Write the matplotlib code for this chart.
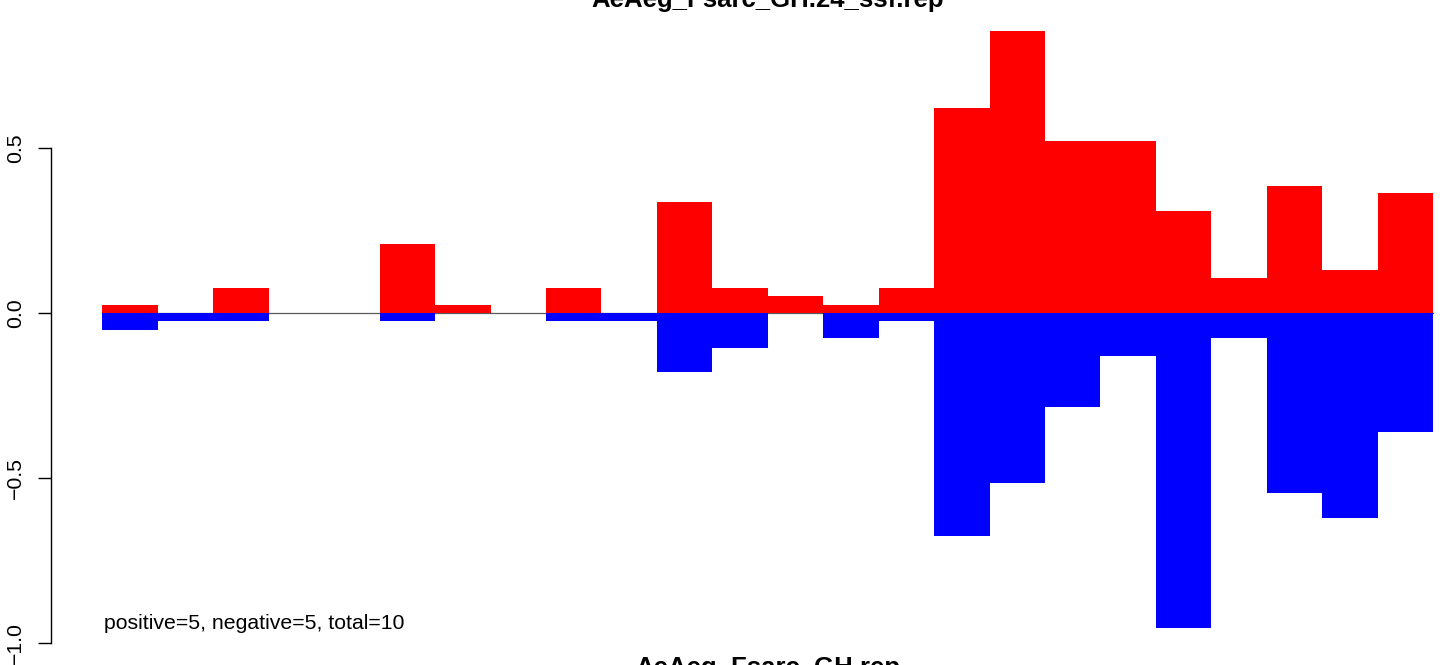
import numpy as np
import matplotlib
matplotlib.use("Agg")
import matplotlib.pyplot as plt

# bar values, one per position
pos_vals = [0.025, 0.0, 0.075, 0.0, 0.0, 0.21, 0.025, 0.0, 0.075, 0.0,
            0.335, 0.075, 0.05, 0.025, 0.075, 0.62, 0.855, 0.52, 0.52, 0.31,
            0.105, 0.385, 0.13, 0.365]
neg_vals = [-0.052, -0.025, -0.025, 0.0, 0.0, -0.025, 0.0, 0.0, -0.025, -0.025,
            -0.18, -0.105, 0.0, -0.075, -0.025, -0.675, -0.515, -0.285, -0.13, -0.955,
            -0.075, -0.545, -0.62, -0.36]
yticks = [-1.0, -0.5, 0.0, 0.5]
ytick_labels = ["\u22121.0", "\u22120.5", "0.0", "0.5"]
title = "AeAeg_Fsarc_GH.24_ssf.rep"
xlab = "AeAeg_Fsarc_GH.rep"
note = "positive=5, negative=5, total=10"

plt.rcParams['font.family'] = ['Liberation Sans', 'DejaVu Sans']

W, H = 1444, 665
fig = plt.figure(figsize=(W/100, H/100), dpi=100)

# plot region in pixels (R style, runs past the right edge)
left_px, right_px = 50.7, 1484.8
top_px, bot_px = 7.0, 652.0
ax = fig.add_axes([left_px/W, 1 - bot_px/H, (right_px-left_px)/W, (bot_px-top_px)/H])

n = len(pos_vals)
x = np.arange(n)
ax.plot([0, n], [0, 0], color='#5a5a5a', lw=0.9, zorder=1)
ax.bar(x, neg_vals, width=1.0, align='edge', color='#0000FF', lw=0, zorder=2)
ax.bar(x, pos_vals, width=1.0, align='edge', color='#FF0000', lw=0, zorder=3)

ax.set_xlim(-0.934, n + 0.934)
ax.set_ylim(-1.027, 0.927)

for s in ['top', 'right', 'bottom']:
    ax.spines[s].set_visible(False)
ax.spines['left'].set_bounds(-1.0, 0.5)
ax.spines['left'].set_linewidth(1.0)
ax.set_xticks([])
ax.set_yticks(yticks)
ax.set_yticklabels(ytick_labels, rotation=90, va='center', fontsize=15.3)
ax.tick_params(axis='y', length=9.7, width=1.0, pad=8.5)

ax.text(0.03, -0.94, note, fontsize=15.3, ha='left', va='center')

cx = (left_px + right_px) / 2 / W
fig.text(cx, 1 - 7/H, title, fontsize=18.5, fontweight='bold', ha='center', va='baseline')
fig.text(cx, 1 - 675/H, xlab, fontsize=18.5, fontweight='bold', ha='center', va='baseline')

fig.savefig("out.png", dpi=100)
